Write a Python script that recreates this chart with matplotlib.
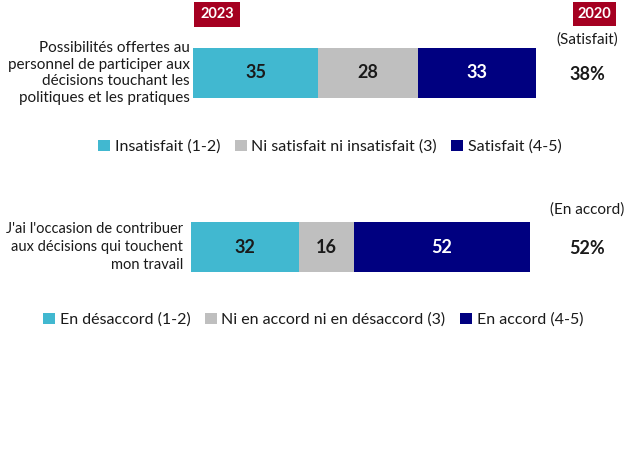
import matplotlib
matplotlib.use("Agg")
import matplotlib.pyplot as plt
from matplotlib.patches import Patch, Rectangle

plt.rcParams['font.family'] = ['Lato', 'DejaVu Sans']

# Data
q1_label = "Possibilités offertes au\npersonnel de participer aux\ndécisions touchant les\npolitiques et les pratiques"
q1_values = [35, 28, 33]
q1_legend = ["Insatisfait (1-2)", "Ni satisfait ni insatisfait (3)", "Satisfait (4-5)"]
q1_prev_header = "(Satisfait)"
q1_prev_value = "38%"

q2_label = "J'ai l'occasion de contribuer\naux décisions qui touchent\nmon travail"
q2_values = [32, 16, 52]
q2_legend = ["En désaccord (1-2)", "Ni en accord ni en désaccord (3)", "En accord (4-5)"]
q2_prev_header = "(En accord)"
q2_prev_value = "52%"

year_now = "2023"
year_prev = "2020"

colors = ["#41B8D0", "#BFBFBF", "#000080"]
text_colors = ["#1a1a1a", "#1a1a1a", "white"]
red = "#A50021"
dark = "#1a1a1a"

W, H = 624, 468
fig = plt.figure(figsize=(W / 100, H / 100), dpi=100)


def rect_px(x0, x1, y0, y1):
    return [x0 / W, 1 - y1 / H, (x1 - x0) / W, (y1 - y0) / H]


ax1 = fig.add_axes(rect_px(193, 536, 48, 98))
ax2 = fig.add_axes(rect_px(191, 530, 222, 272))

specs = [
    (ax1, q1_values, q1_label, 190, 11, 1.22, q1_prev_header, q1_prev_value, 40, 74, q1_legend, 330, 147),
    (ax2, q2_values, q2_label, 183, 10.5, 1.32, q2_prev_header, q2_prev_value, 210, 248, q2_legend, 313, 320),
]

for ax, values, label, lab_x, lab_fs, ls, hdr, pv, hy, vy, legend, lx, ly in specs:
    left = 0
    for v, c, tc in zip(values, colors, text_colors):
        ax.barh(0, v, left=left, color=c, height=1.0)
        ax.text(left + v / 2, 0, str(v), ha='center', va='center',
                fontsize=13, fontweight='bold', color=tc)
        left += v
    ax.set_xlim(0, sum(values))
    ax.set_ylim(-0.5, 0.5)
    ax.axis('off')
    pos = ax.get_position()
    fig.text(lab_x / W, pos.y0 + pos.height / 2, label, ha='right', va='center',
             fontsize=lab_fs, linespacing=ls, color=dark)
    fig.text(587 / W, 1 - hy / H, hdr, ha='center', va='center', fontsize=11, color=dark)
    fig.text(587 / W, 1 - vy / H, pv, ha='center', va='center', fontsize=13,
             fontweight='bold', color=dark)
    handles = [Patch(facecolor=c, edgecolor='none') for c in colors]
    fig.legend(handles, legend, loc='center', bbox_to_anchor=(lx / W, 1 - ly / H),
               ncol=3, frameon=False, fontsize=11.5, handlelength=0.75, handleheight=0.75,
               handletextpad=0.3, columnspacing=0.9, labelcolor=dark,
               borderaxespad=0, borderpad=0)

# Year boxes
for txt, x0, x1, y0, y1 in [(year_now, 194, 240, 2, 27), (year_prev, 573, 616, 2, 26)]:
    r = rect_px(x0, x1, y0, y1)
    fig.patches.append(Rectangle((r[0], r[1]), r[2], r[3], transform=fig.transFigure,
                                 facecolor=red, edgecolor='none'))
    fig.text((x0 + x1) / 2 / W, 1 - (y0 + y1) / 2 / H, txt, ha='center', va='center',
             fontsize=10.5, fontweight='bold', color='white')

fig.savefig("out.png", dpi=100, facecolor='white')
